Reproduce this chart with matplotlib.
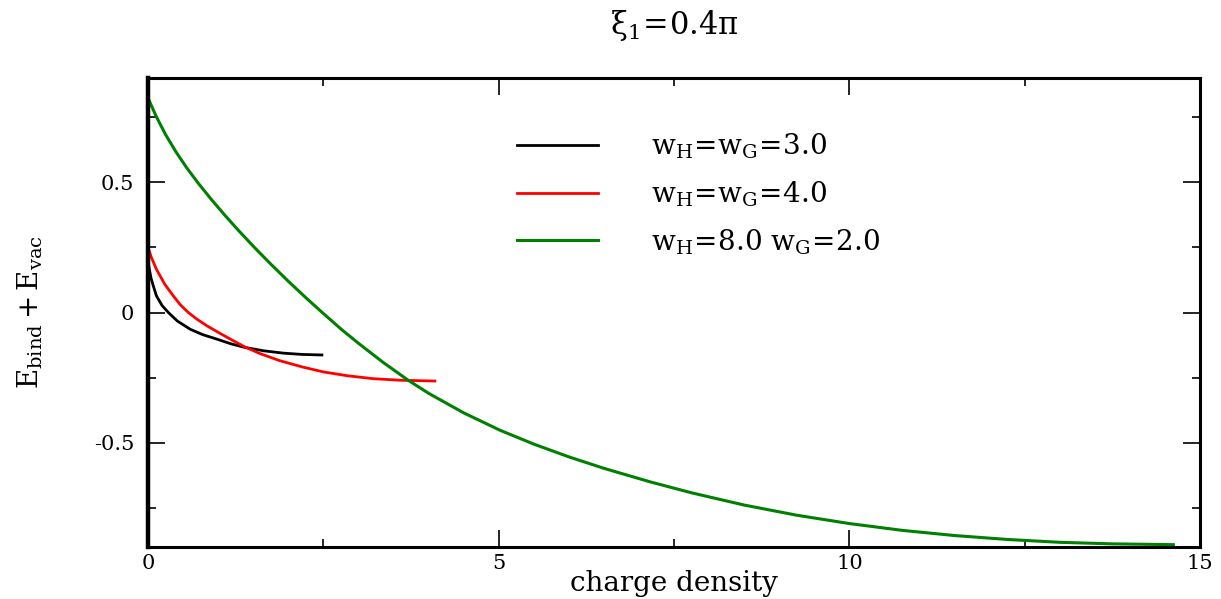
import matplotlib
matplotlib.use("Agg")
import matplotlib.pyplot as plt
from matplotlib.ticker import MultipleLocator

plt.rcParams['font.family'] = ['DejaVu Serif']
plt.rcParams['mathtext.fontset'] = 'dejavuserif'

# binding + vacuum energy vs charge density, one curve per (w_H, w_G)
x_w3 = [0.0, 0.02, 0.045, 0.076, 0.12, 0.2, 0.29, 0.42, 0.6, 0.78, 0.98, 1.18, 1.38, 1.65, 1.93, 2.2, 2.48]
y_w3 = [0.197, 0.165, 0.13, 0.102, 0.064, 0.027, 0.0, -0.033, -0.064, -0.085, -0.102, -0.12, -0.134, -0.147, -0.156, -0.161, -0.163]

x_w4 = [0.0, 0.05, 0.12, 0.24, 0.36, 0.46, 0.575, 0.7, 0.84, 1.0, 1.2, 1.38, 1.6, 1.88, 2.2, 2.5, 2.85, 3.21, 3.6, 4.09]
y_w4 = [0.249, 0.21, 0.166, 0.108, 0.064, 0.03, 0.0, -0.026, -0.051, -0.076, -0.106, -0.132, -0.158, -0.185, -0.209, -0.228, -0.243, -0.254, -0.26, -0.263]

x_w82 = [0.0, 0.12, 0.25, 0.4, 0.55, 0.72, 0.9, 1.1, 1.3, 1.52, 1.75, 2.0, 2.25, 2.48, 2.75, 3.0, 3.35,
         3.71, 4.0, 4.5, 5.02, 5.5, 6.0, 6.5, 7.16, 7.75, 8.5, 9.25, 10.0, 10.75, 11.5, 12.25, 13.0, 13.75, 14.62]
y_w82 = [0.823, 0.751, 0.683, 0.616, 0.556, 0.495, 0.435, 0.372, 0.312, 0.249, 0.186, 0.12, 0.057, 0.001, -0.063, -0.118, -0.191,
         -0.26, -0.31, -0.385, -0.452, -0.505, -0.554, -0.598, -0.65, -0.692, -0.739, -0.778, -0.81, -0.836, -0.856, -0.871, -0.882, -0.888, -0.891]

labels = [r'$\mathrm{w_H\!=\!w_G\!=\!3.0}$',
          r'$\mathrm{w_H\!=\!w_G\!=\!4.0}$',
          r'$\mathrm{w_H\!=\!8.0\ w_G\!=\!2.0}$']

fig = plt.figure(figsize=(12.21, 5.99), dpi=100)
ax = fig.add_axes([148 / 1221, 1 - 547 / 599, 1052 / 1221, 469 / 599])

ax.plot(x_w3, y_w3, color='black', lw=2.0, label=labels[0])
ax.plot(x_w4, y_w4, color='red', lw=2.0, label=labels[1])
ax.plot(x_w82, y_w82, color='green', lw=2.2, label=labels[2])

ax.set_xlim(0, 15)
ax.set_ylim(-0.9, 0.9)
ax.xaxis.set_major_locator(MultipleLocator(5))
ax.xaxis.set_minor_locator(MultipleLocator(2.5))
ax.yaxis.set_major_locator(MultipleLocator(0.5))
ax.yaxis.set_minor_locator(MultipleLocator(0.25))
ax.set_xticks([0, 5, 10, 15])
ax.set_xticklabels(['0', '5', '10', '15'])
ax.set_yticks([-0.5, 0, 0.5])
ax.set_yticklabels(['-0.5', '0', '0.5'])

ax.tick_params(which='both', direction='in', top=True, right=True, labelsize=15, width=1.2)
ax.tick_params(which='major', length=12, pad=5)
ax.tick_params(axis='y', which='major', pad=10)
ax.tick_params(which='minor', length=6)
ax.spines['left'].set_linewidth(3.2)
for s in ['bottom', 'top', 'right']:
    ax.spines[s].set_linewidth(2.2)

ax.set_xlabel('charge density', fontsize=20, labelpad=-2)
ax.set_ylabel(r'$\mathrm{E_{bind} + E_{vac}}$', fontsize=20)
ax.yaxis.set_label_coords(-0.098, 0.5)
ax.set_title(r'$\mathrm{\xi_1\!=\!0.4\pi}$', fontsize=22, pad=32)

ax.legend(loc='upper left', bbox_to_anchor=(0.351, 0.886), frameon=False,
          fontsize=20, handlelength=2.9, handletextpad=1.9, labelspacing=0.66,
          borderpad=0, borderaxespad=0)

fig.savefig('out.png', dpi=100)
